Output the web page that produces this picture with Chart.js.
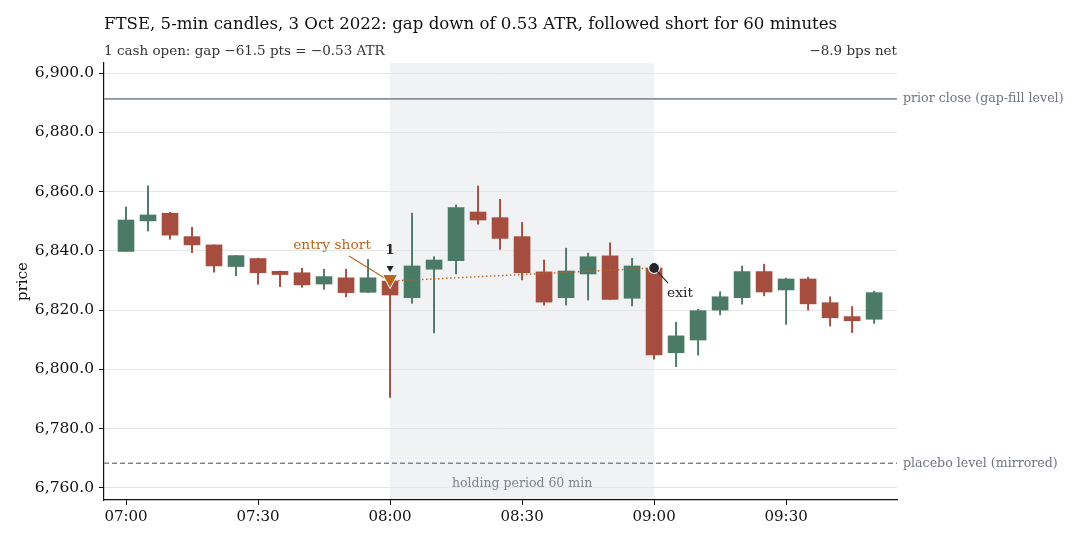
<!DOCTYPE html>
<html>
<head>
<meta charset="utf-8">
<script src="https://cdn.jsdelivr.net/npm/chart.js@4.4.1/dist/chart.umd.min.js"></script>
<style>
  html, body { margin: 0; padding: 0; background: #fff; }
  #wrap { width: 1080px; height: 540px; }
</style>
</head>
<body>
<div id="wrap"><canvas id="chart" width="1080" height="540"></canvas></div>
<script>
// 5-min candles
const times  = ["07:00","07:05","07:10","07:15","07:20","07:25","07:30","07:35","07:40","07:45","07:50","07:55",
                "08:00","08:05","08:10","08:15","08:20","08:25","08:30","08:35","08:40","08:45","08:50","08:55",
                "09:00","09:05","09:10","09:15","09:20","09:25","09:30","09:35","09:40","09:45","09:50"];
const opens  = [6839.8,6850.1,6852.7,6844.8,6842.0,6834.7,6837.4,6833.1,6832.6,6828.8,6830.9,6826.0,
                6829.8,6824.2,6833.8,6836.7,6853.1,6851.2,6844.8,6832.9,6824.2,6832.2,6838.3,6824.0,
                6834.2,6805.6,6809.9,6820.0,6824.2,6833.0,6826.8,6830.5,6822.5,6817.8,6816.9];
const highs  = [6854.8,6861.9,6853.0,6847.9,6842.0,6838.4,6837.5,6833.2,6834.1,6833.8,6833.8,6837.1,
                6830.5,6852.7,6838.0,6855.5,6861.9,6857.4,6849.6,6836.9,6840.9,6839.2,6842.7,6837.5,
                6834.5,6815.9,6820.3,6826.2,6834.9,6835.5,6830.8,6831.1,6824.5,6821.2,6826.4];
const lows   = [6839.8,6846.7,6843.9,6839.4,6832.8,6831.6,6828.7,6827.9,6827.7,6827.0,6824.5,6826.0,
                6790.5,6822.3,6812.3,6832.2,6849.0,6840.5,6830.2,6821.7,6821.7,6823.4,6823.6,6821.4,
                6803.4,6800.9,6804.8,6818.4,6822.0,6824.8,6815.2,6820.0,6814.6,6812.4,6815.5];
const closes = [6850.4,6852.1,6845.3,6842.0,6834.9,6838.4,6832.6,6832.0,6828.5,6831.3,6825.9,6830.9,
                6825.1,6834.9,6836.9,6854.6,6850.4,6844.2,6832.6,6822.7,6833.2,6838.0,6823.6,6834.9,
                6804.9,6811.3,6819.8,6824.5,6833.0,6826.1,6830.5,6822.1,6817.4,6816.4,6825.9];

const xTickLabels = ["07:00","07:30","08:00","08:30","09:00","09:30"];
const yTicks = [6760, 6780, 6800, 6820, 6840, 6860, 6880, 6900];

const priorClose = 6891.3;
const placeboLevel = 6768.3;
const entryTime = "08:00", entryPrice = 6829.8;
const exitTime = "09:00", exitPrice = 6834.2;
const holdStart = "08:00", holdEnd = "09:00";

const UP = "#4b7b66", DOWN = "#a54e40", ORANGE = "#b8661f", GREY = "#8a919b";
const FONT = "'DejaVu Serif', serif";

// minutes after 07:00
function mins(t) {
  const p = t.split(":");
  return (+p[0] - 7) * 60 + (+p[1]);
}
const xs = times.map(mins);
const xMin = -5, xMax = 175.2;

const bodies = xs.map((x, i) => ({ x: x, y: [opens[i], closes[i]] }));
const wicks = xs.map((x, i) => ({ x: x, y: [lows[i], highs[i]] }));
const colours = opens.map((o, i) => closes[i] >= o ? UP : DOWN);

// shading, side labels, entry/exit notes
const extras = {
  id: "extras",
  beforeDraw(chart) {
    const { ctx, chartArea: a, scales: { x } } = chart;
    ctx.save();
    ctx.fillStyle = "#f1f2f4";
    const x0 = x.getPixelForValue(mins(holdStart)), x1 = x.getPixelForValue(mins(holdEnd));
    ctx.fillRect(x0, a.top, x1 - x0, a.bottom - a.top);
    ctx.restore();
  },
  afterDatasetsDraw(chart) {
    const { ctx, chartArea: a, scales: { x, y } } = chart;
    ctx.save();
    ctx.textBaseline = "middle";

    // titles
    ctx.fillStyle = "#111";
    ctx.font = "16.6px " + FONT;
    ctx.textAlign = "left";
    ctx.fillText("FTSE, 5-min candles, 3 Oct 2022: gap down of 0.53 ATR, followed short for 60 minutes", a.left, 25);
    ctx.fillStyle = "#333";
    ctx.font = "13.5px " + FONT;
    ctx.fillText("1 cash open: gap \u221261.5 pts = \u22120.53 ATR", a.left, 51);
    ctx.textAlign = "right";
    ctx.fillText("\u22128.9 bps net", a.right, 51);

    // level labels
    ctx.textAlign = "left";
    ctx.fillStyle = "#6e7580";
    ctx.font = "12.6px " + FONT;
    ctx.fillText("prior close (gap-fill level)", a.right + 6, y.getPixelForValue(priorClose));
    ctx.fillText("placebo level (mirrored)", a.right + 6, y.getPixelForValue(placeboLevel));

    // holding period
    ctx.textAlign = "center";
    ctx.fillStyle = "#7d8490";
    ctx.font = "12.5px " + FONT;
    ctx.fillText("holding period 60 min", x.getPixelForValue((mins(holdStart) + mins(holdEnd)) / 2), a.bottom - 16);

    // entry marker: downward triangle at the entry price
    const ex = x.getPixelForValue(mins(entryTime)), ey = y.getPixelForValue(entryPrice);
    ctx.strokeStyle = ORANGE;
    ctx.lineWidth = 1.1;
    ctx.beginPath();
    ctx.moveTo(ex - 41, ey - 25);
    ctx.lineTo(ex - 4, ey - 2);
    ctx.stroke();
    ctx.beginPath();
    ctx.moveTo(ex - 7.5, ey - 6.5);
    ctx.lineTo(ex + 7.5, ey - 6.5);
    ctx.lineTo(ex, ey + 7.5);
    ctx.closePath();
    ctx.fillStyle = ORANGE;
    ctx.fill();
    ctx.strokeStyle = "#fff";
    ctx.lineWidth = 1;
    ctx.stroke();
    ctx.font = "13.8px " + FONT;
    ctx.fillText("entry short", ex - 58, ey - 36);

    // trade number marker
    ctx.fillStyle = "#222";
    ctx.beginPath();
    ctx.moveTo(ex - 3.5, ey - 15);
    ctx.lineTo(ex + 3.5, ey - 15);
    ctx.lineTo(ex, ey - 9);
    ctx.closePath();
    ctx.fill();
    ctx.font = "bold 13.5px " + FONT;
    ctx.fillText("1", ex, ey - 31);

    // exit note
    const qx = x.getPixelForValue(mins(exitTime)), qy = y.getPixelForValue(exitPrice);
    ctx.strokeStyle = "#222";
    ctx.lineWidth = 1.1;
    ctx.beginPath();
    ctx.moveTo(qx + 3, qy + 3);
    ctx.lineTo(qx + 14, qy + 15);
    ctx.stroke();
    ctx.textAlign = "left";
    ctx.fillStyle = "#222";
    ctx.font = "13.8px " + FONT;
    ctx.fillText("exit", qx + 13, qy + 25);
    ctx.restore();
  }
};

const chart = new Chart(document.getElementById("chart"), {
  type: "bar",
  data: {
    datasets: [
      {
        label: "bodies",
        data: bodies,
        backgroundColor: colours,
        barThickness: 16,
        minBarLength: 1.5,
        grouped: false,
        order: 2
      },
      {
        label: "wicks",
        data: wicks,
        backgroundColor: colours,
        barThickness: 1.3,
        grouped: false,
        order: 3
      },
      {
        type: "line",
        label: "prior close",
        data: [{ x: xMin, y: priorClose }, { x: xMax, y: priorClose }],
        borderColor: GREY,
        borderWidth: 1.8,
        pointRadius: 0,
        order: 4
      },
      {
        type: "line",
        label: "placebo",
        data: [{ x: xMin, y: placeboLevel }, { x: xMax, y: placeboLevel }],
        borderColor: "#7f8797",
        borderWidth: 1.3,
        borderDash: [5, 3],
        pointRadius: 0,
        order: 4
      },
      {
        type: "line",
        label: "trade",
        data: [{ x: mins(entryTime), y: entryPrice }, { x: mins(exitTime), y: exitPrice }],
        borderColor: ORANGE,
        borderWidth: 1.4,
        borderDash: [1.5, 2.5],
        pointRadius: 0,
        order: 1
      },
      {
        type: "scatter",
        label: "exit",
        data: [{ x: mins(exitTime), y: exitPrice }],
        pointStyle: "circle",
        pointRadius: 5.5,
        pointBackgroundColor: "#22262d",
        pointBorderColor: "#fff",
        pointBorderWidth: 1.2,
        order: 0
      }
    ]
  },
  options: {
    responsive: false,
    animation: false,
    layout: { padding: { top: 63, right: 183, left: 0, bottom: 0 } },
    plugins: {
      legend: { display: false },
      tooltip: { enabled: false },
      title: { display: false }
    },
    scales: {
      x: {
        type: "linear",
        min: xMin,
        max: xMax,
        offset: false,
        afterFit(scale) { scale.height = 40; },
        afterBuildTicks(scale) {
          scale.ticks = xTickLabels.map(t => ({ value: mins(t) }));
        },
        ticks: {
          autoSkip: false,
          maxRotation: 0,
          padding: 3,
          color: "#111",
          font: { family: FONT, size: 15 },
          callback: (v) => xTickLabels[xTickLabels.map(mins).indexOf(v)]
        },
        grid: { offset: false, drawOnChartArea: false, tickLength: 5, tickColor: "#111" },
        border: { color: "#111", width: 1.2 }
      },
      y: {
        min: 6755.9,
        max: 6903.4,
        afterFit(scale) { scale.width = 104; },
        afterBuildTicks(scale) {
          scale.ticks = yTicks.map(v => ({ value: v }));
        },
        ticks: {
          padding: 5,
          color: "#111",
          font: { family: FONT, size: 15.5 },
          callback: (v) => v.toLocaleString("en-US", { minimumFractionDigits: 1, maximumFractionDigits: 1 })
        },
        grid: { color: "#e6e6e6", lineWidth: 1, tickLength: 5, tickColor: "#111" },
        border: { color: "#111", width: 1.2 },
        title: {
          display: true,
          text: "price",
          color: "#111",
          font: { family: FONT, size: 15 },
          padding: { top: 14, bottom: 0 }
        }
      }
    }
  },
  plugins: [extras]
});
</script>
</body>
</html>
